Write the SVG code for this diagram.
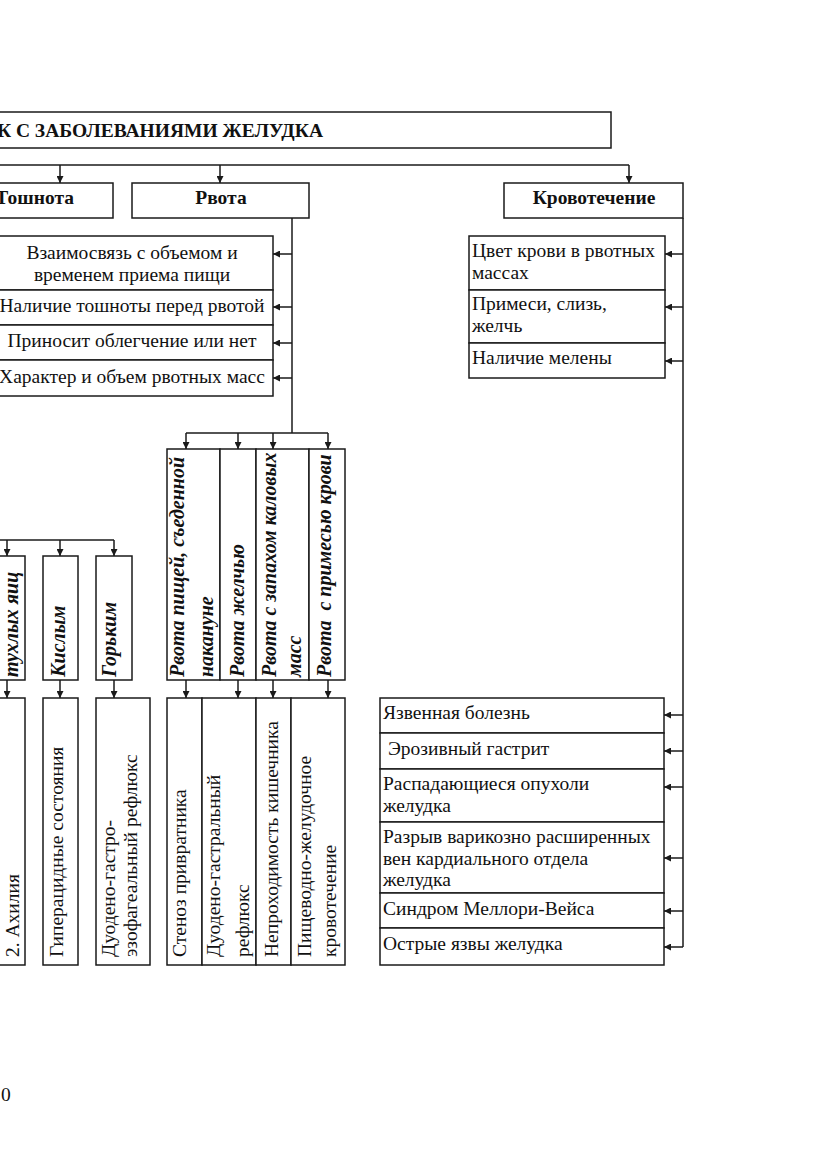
<svg xmlns="http://www.w3.org/2000/svg" width="831" height="1174" viewBox="0 0 831 1174">
<style>
rect.b{fill:#fff;stroke:#1a1a1a;stroke-width:1.5}
.t{font-family:"Liberation Serif","Times New Roman",serif;font-size:19.5px;fill:#111}
.h{font-family:"Liberation Serif","Times New Roman",serif;font-size:19.5px;font-weight:bold;fill:#111}
.v{font-family:"Liberation Serif","Times New Roman",serif;font-size:20px;font-weight:bold;font-style:italic;fill:#111;white-space:pre}
.c{text-anchor:middle}
#connectors line,#connectors path{stroke:#1a1a1a;stroke-width:1.5;fill:none}
</style>
<defs>
<marker id="ah" viewBox="0 0 10 10" refX="10" refY="5" markerWidth="7" markerHeight="7" markerUnits="userSpaceOnUse" orient="auto">
<path d="M0,0 L10,5 L0,10 Z" fill="#1a1a1a"/>
</marker>
</defs>
<rect width="831" height="1174" fill="#fff"/>

<g id="connectors">
<line x1="-5" y1="165" x2="629" y2="165"/>
<line x1="60" y1="165" x2="60" y2="183" marker-end="url(#ah)"/>
<line x1="220" y1="165" x2="220" y2="183" marker-end="url(#ah)"/>
<line x1="629" y1="165" x2="629" y2="183" marker-end="url(#ah)"/>
<line x1="292" y1="218" x2="292" y2="433"/>
<line x1="292" y1="254" x2="273" y2="254" marker-end="url(#ah)"/>
<line x1="292" y1="307" x2="273" y2="307" marker-end="url(#ah)"/>
<line x1="292" y1="343" x2="273" y2="343" marker-end="url(#ah)"/>
<line x1="292" y1="378" x2="273" y2="378" marker-end="url(#ah)"/>
<line x1="186" y1="433" x2="328" y2="433"/>
<line x1="186" y1="433" x2="186" y2="449" marker-end="url(#ah)"/>
<line x1="238" y1="433" x2="238" y2="449" marker-end="url(#ah)"/>
<line x1="273" y1="433" x2="273" y2="449" marker-end="url(#ah)"/>
<line x1="328" y1="433" x2="328" y2="449" marker-end="url(#ah)"/>
<line x1="186" y1="680" x2="186" y2="698" marker-end="url(#ah)"/>
<line x1="238" y1="680" x2="238" y2="698" marker-end="url(#ah)"/>
<line x1="273" y1="680" x2="273" y2="698" marker-end="url(#ah)"/>
<line x1="328" y1="680" x2="328" y2="698" marker-end="url(#ah)"/>
<line x1="-5" y1="540" x2="114" y2="540"/>
<line x1="7" y1="540" x2="7" y2="556" marker-end="url(#ah)"/>
<line x1="60" y1="540" x2="60" y2="556" marker-end="url(#ah)"/>
<line x1="114" y1="540" x2="114" y2="556" marker-end="url(#ah)"/>
<line x1="7" y1="680" x2="7" y2="698" marker-end="url(#ah)"/>
<line x1="60" y1="680" x2="60" y2="698" marker-end="url(#ah)"/>
<line x1="114" y1="680" x2="114" y2="698" marker-end="url(#ah)"/>
<line x1="683" y1="218" x2="683" y2="947"/>
<line x1="683" y1="254" x2="665" y2="254" marker-end="url(#ah)"/>
<line x1="683" y1="307" x2="665" y2="307" marker-end="url(#ah)"/>
<line x1="683" y1="361" x2="665" y2="361" marker-end="url(#ah)"/>
<line x1="683" y1="715" x2="664" y2="715" marker-end="url(#ah)"/>
<line x1="683" y1="751" x2="664" y2="751" marker-end="url(#ah)"/>
<line x1="683" y1="787" x2="664" y2="787" marker-end="url(#ah)"/>
<line x1="683" y1="858" x2="664" y2="858" marker-end="url(#ah)"/>
<line x1="683" y1="911" x2="664" y2="911" marker-end="url(#ah)"/>
<line x1="683" y1="947" x2="664" y2="947" marker-end="url(#ah)"/>
</g>

<g id="title">
<rect class="b" x="-10" y="112" width="621" height="36"/>
<text class="h" x="323" y="137" text-anchor="end">К С ЗАБОЛЕВАНИЯМИ ЖЕЛУДКА</text>
</g>

<g id="toshnota">
<rect class="b" x="-40" y="183" width="153" height="35"/>
<text class="h" x="74" y="204" text-anchor="end">Тошнота</text>
</g>
<g id="rvota">
<rect class="b" x="132" y="183" width="177" height="35"/>
<text class="h c" x="221" y="204">Рвота</text>
</g>
<g id="krovotechenie">
<rect class="b" x="504" y="183" width="179" height="35"/>
<text class="h c" x="594" y="204">Кровотечение</text>
</g>

<g id="rvota-attr-1">
<rect class="b" x="-10" y="236" width="283" height="54"/>
<text class="t c" x="132" y="259">Взаимосвязь с объемом и</text>
<text class="t c" x="132" y="281">временем приема пищи</text>
</g>
<g id="rvota-attr-2">
<rect class="b" x="-10" y="290" width="283" height="35"/>
<text class="t c" x="132" y="312">Наличие тошноты перед рвотой</text>
</g>
<g id="rvota-attr-3">
<rect class="b" x="-10" y="325" width="283" height="35"/>
<text class="t c" x="132" y="347">Приносит облегчение или нет</text>
</g>
<g id="rvota-attr-4">
<rect class="b" x="-10" y="360" width="283" height="36"/>
<text class="t c" x="132" y="383">Характер и объем рвотных масс</text>
</g>

<g id="krov-attr-1">
<rect class="b" x="469" y="236" width="196" height="54"/>
<text class="t" x="472" y="257">Цвет крови в рвотных</text>
<text class="t" x="472" y="279">массах</text>
</g>
<g id="krov-attr-2">
<rect class="b" x="469" y="290" width="196" height="53"/>
<text class="t" x="472" y="310">Примеси, слизь,</text>
<text class="t" x="472" y="332">желчь</text>
</g>
<g id="krov-attr-3">
<rect class="b" x="469" y="343" width="196" height="35"/>
<text class="t" x="472" y="364">Наличие мелены</text>
</g>

<g id="vt-1">
<rect class="b" x="167" y="449" width="53" height="231"/>
<text class="v" transform="translate(184,677) rotate(-90)">Рвота пищей, съеденной</text>
<text class="v" transform="translate(213,677) rotate(-90)">накануне</text>
</g>
<g id="vt-2">
<rect class="b" x="220" y="449" width="36" height="231"/>
<text class="v" transform="translate(244,677) rotate(-90)">Рвота желчью</text>
</g>
<g id="vt-3">
<rect class="b" x="256" y="449" width="53" height="231"/>
<text class="v" transform="translate(276,677) rotate(-90)">Рвота с запахом каловых</text>
<text class="v" transform="translate(301,677) rotate(-90)">масс</text>
</g>
<g id="vt-4">
<rect class="b" x="309" y="449" width="36" height="231"/>
<text class="v" transform="translate(331,677) rotate(-90)">Рвота  с примесью крови</text>
</g>

<g id="vt-left-1">
<rect class="b" x="-30" y="556" width="55" height="124"/>
<text class="v" transform="translate(18,677) rotate(-90)">тухлых яиц</text>
</g>
<g id="vt-left-2">
<rect class="b" x="43" y="556" width="35" height="124"/>
<text class="v" transform="translate(65,677) rotate(-90)">Кислым</text>
</g>
<g id="vt-left-3">
<rect class="b" x="96" y="556" width="36" height="124"/>
<text class="v" transform="translate(116,677) rotate(-90)">Горьким</text>
</g>

<g id="d-left-1">
<rect class="b" x="-30" y="698" width="55" height="267"/>
<text class="t" transform="translate(19,957) rotate(-90)">2. Ахилия</text>
</g>
<g id="d-left-2">
<rect class="b" x="43" y="698" width="35" height="267"/>
<text class="t" transform="translate(63,957) rotate(-90)">Гиперацидные состояния</text>
</g>
<g id="d-left-3">
<rect class="b" x="96" y="698" width="54" height="267"/>
<text class="t" transform="translate(115,957) rotate(-90)">Дуодено-гастро-</text>
<text class="t" transform="translate(137,957) rotate(-90)">эзофагеальный рефлюкс</text>
</g>
<g id="d-mid-1">
<rect class="b" x="167" y="698" width="35" height="267"/>
<text class="t" transform="translate(186,957) rotate(-90)">Стеноз привратника</text>
</g>
<g id="d-mid-2">
<rect class="b" x="202" y="698" width="54" height="267"/>
<text class="t" transform="translate(220,957) rotate(-90)">Дуодено-гастральный</text>
<text class="t" transform="translate(249,957) rotate(-90)">рефлюкс</text>
</g>
<g id="d-mid-3">
<rect class="b" x="256" y="698" width="35" height="267"/>
<text class="t" transform="translate(278,957) rotate(-90)">Непроходимость кишечника</text>
</g>
<g id="d-mid-4">
<rect class="b" x="291" y="698" width="54" height="267"/>
<text class="t" transform="translate(311,957) rotate(-90)">Пищеводно-желудочное</text>
<text class="t" transform="translate(336,957) rotate(-90)">кровотечение</text>
</g>

<g id="r-1">
<rect class="b" x="380" y="698" width="284" height="35"/>
<text class="t" x="383" y="719">Язвенная болезнь</text>
</g>
<g id="r-2">
<rect class="b" x="380" y="733" width="284" height="36"/>
<text class="t" x="388" y="755">Эрозивный гастрит</text>
</g>
<g id="r-3">
<rect class="b" x="380" y="769" width="284" height="53"/>
<text class="t" x="383" y="790">Распадающиеся опухоли</text>
<text class="t" x="383" y="812">желудка</text>
</g>
<g id="r-4">
<rect class="b" x="380" y="822" width="284" height="71"/>
<text class="t" x="383" y="843">Разрыв варикозно расширенных</text>
<text class="t" x="383" y="865">вен кардиального отдела</text>
<text class="t" x="383" y="886">желудка</text>
</g>
<g id="r-5">
<rect class="b" x="380" y="893" width="284" height="35"/>
<text class="t" x="383" y="915">Синдром Меллори-Вейса</text>
</g>
<g id="r-6">
<rect class="b" x="380" y="928" width="284" height="37"/>
<text class="t" x="383" y="950">Острые язвы желудка</text>
</g>

<text class="t" x="1" y="1101">0</text>
</svg>
